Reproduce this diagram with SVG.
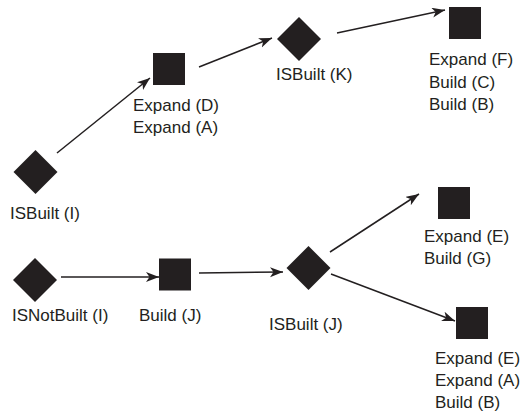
<svg xmlns="http://www.w3.org/2000/svg" width="522" height="417" viewBox="0 0 522 417">
  <style>
    .node { fill: #231f20; }
    .label { font-family: "Liberation Sans", Arial, sans-serif; font-size: 17px; fill: #231f20; }
    .edge { stroke: #231f20; stroke-width: 1.5; fill: none; marker-end: url(#arrow); }
  </style>
  <defs>
    <marker id="arrow" markerUnits="userSpaceOnUse" markerWidth="14" markerHeight="12" refX="13" refY="5" orient="auto">
      <path d="M0,0 L13,5 L0,10 L3.5,5 Z" fill="#231f20"/>
    </marker>
  </defs>

  <!-- connectors -->
  <g id="connectors">
    <line class="edge" x1="57" y1="153" x2="150" y2="78"/>
    <line class="edge" x1="199" y1="67" x2="272" y2="38"/>
    <line class="edge" x1="337" y1="33" x2="445" y2="10"/>
    <line class="edge" x1="61" y1="277" x2="159" y2="277"/>
    <line class="edge" x1="199" y1="273" x2="283" y2="272"/>
    <line class="edge" x1="330" y1="252" x2="419" y2="194"/>
    <line class="edge" x1="331" y1="274" x2="455" y2="321"/>
  </g>

  <!-- condition nodes (diamonds) -->
  <g id="isbuilt-i">
    <polygon class="node" points="35.5,150 57.5,172 35.5,194 13.5,172"/>
    <text class="label" x="10" y="219">ISBuilt (I)</text>
  </g>
  <g id="isbuilt-k">
    <polygon class="node" points="299,17 321,39 299,61 277,39"/>
    <text class="label" x="276" y="80">ISBuilt (K)</text>
  </g>
  <g id="isnotbuilt-i">
    <polygon class="node" points="35,258 57,280 35,302 13,280"/>
    <text class="label" x="12" y="321">ISNotBuilt (I)</text>
  </g>
  <g id="isbuilt-j">
    <polygon class="node" points="308.5,246 330.5,268 308.5,290 286.5,268"/>
    <text class="label" x="269" y="330">ISBuilt (J)</text>
  </g>

  <!-- action nodes (squares) -->
  <g id="expand-d-a">
    <rect class="node" x="153" y="53" width="32" height="32"/>
    <text class="label" x="133" y="111">Expand (D)</text>
    <text class="label" x="133" y="133">Expand (A)</text>
  </g>
  <g id="expand-f-build-c-b">
    <rect class="node" x="449" y="7" width="32" height="32"/>
    <text class="label" x="429" y="65">Expand (F)</text>
    <text class="label" x="429" y="87.5">Build (C)</text>
    <text class="label" x="429" y="110">Build (B)</text>
  </g>
  <g id="build-j">
    <rect class="node" x="159" y="258.5" width="32" height="32"/>
    <text class="label" x="139" y="321">Build (J)</text>
  </g>
  <g id="expand-e-build-g">
    <rect class="node" x="438" y="187" width="32" height="32"/>
    <text class="label" x="424" y="242">Expand (E)</text>
    <text class="label" x="424" y="264">Build (G)</text>
  </g>
  <g id="expand-e-a-build-b">
    <rect class="node" x="456" y="307" width="32" height="32"/>
    <text class="label" x="435" y="364">Expand (E)</text>
    <text class="label" x="435" y="386">Expand (A)</text>
    <text class="label" x="435" y="408">Build (B)</text>
  </g>
</svg>
